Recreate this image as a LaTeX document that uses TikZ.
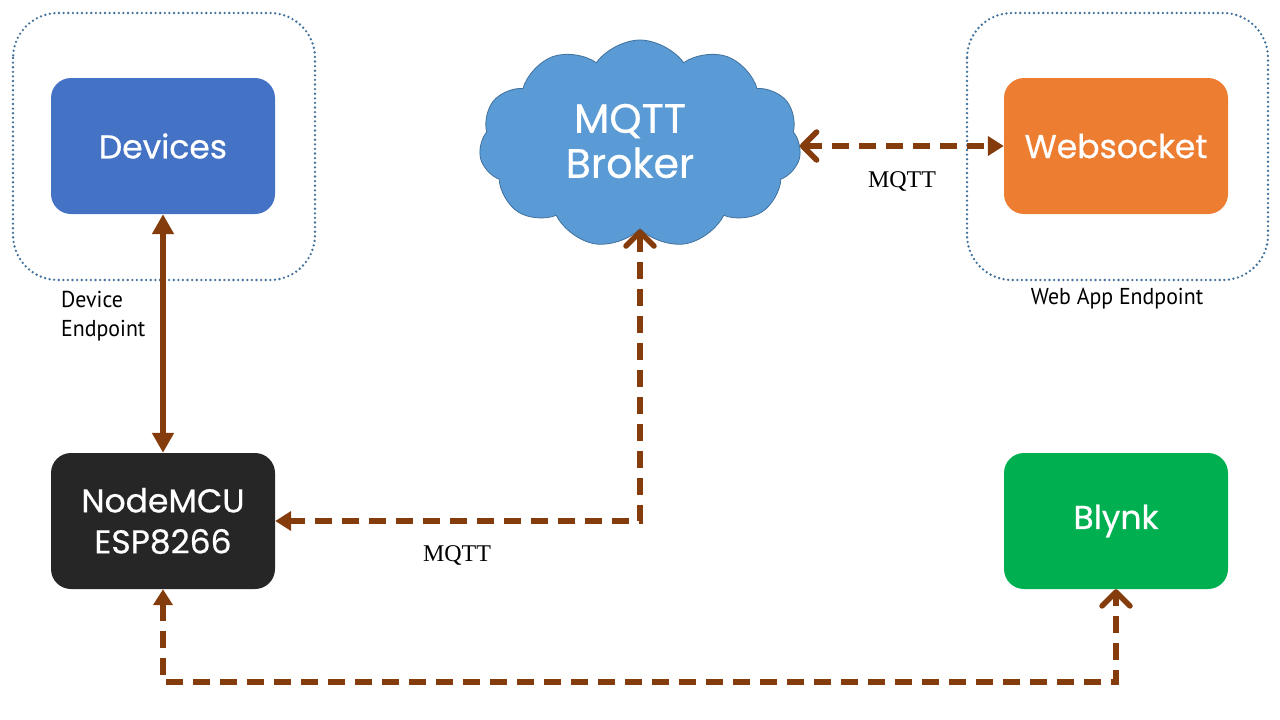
\documentclass[tikz,border=0pt]{standalone}
\usepackage{fontspec}
\setmainfont{Liberation Serif}
\newfontfamily\boxfont[FakeBold=0.6]{Poppins}
\newfontfamily\labfont[FakeStretch=0.95]{PT Sans}
\usetikzlibrary{arrows.meta,shapes.symbols}
\definecolor{zoneblue}{HTML}{41719C}
\definecolor{linkbrown}{HTML}{843C0C}
\definecolor{devblue}{HTML}{4472C4}
\definecolor{wsorange}{HTML}{ED7D31}
\definecolor{mcublack}{HTML}{262626}
\definecolor{blynkgreen}{HTML}{00B050}
\definecolor{cloudblue}{HTML}{5B9BD5}
\begin{document}
\begin{tikzpicture}[x=1pt,y=-1pt,
  box/.style={rounded corners=20pt, minimum width=224pt, minimum height=136pt, inner sep=0pt,
    text=white, font=\boxfont\fontsize{33}{41}\selectfont, align=center},
  zone/.style={draw=zoneblue, line width=2.6pt, dash pattern=on 0pt off 4.6pt, line cap=round, rounded corners=45pt},
  link/.style={draw=linkbrown, line width=5.5pt},
  dashedlink/.style={link, dash pattern=on 17pt off 10pt},
  mytri/.tip={Triangle[length=16pt,width=19pt]},
  bigtri/.tip={Triangle[length=20pt,width=21pt]},
  mybarb/.tip={Straight Barb[round,length=14pt,width=28pt,line width=5.5pt]},
  lab/.style={font=\fontsize{24}{28}\selectfont, inner sep=0pt},
  endlab/.style={font=\labfont\fontsize{23}{29}\selectfont, inner sep=0pt}
]
\path[use as bounding box] (0,0) rectangle (1280,720);
% zones
\draw[zone] (13,13) rectangle (315,280);
\draw[zone] (967,13) rectangle (1268,280);
% nodes
\node[box, fill=devblue] (dev) at (163,146) {Devices};
\node[box, fill=wsorange] (ws) at (1116,146) {Websocket};
\node[box, fill=mcublack] (mcu) at (163,521) {NodeMCU\\ESP8266};
\node[box, fill=blynkgreen] (blynk) at (1116,521) {Blynk};
\node[cloud, cloud puffs=11, cloud puff arc=110, aspect=1.58, draw=zoneblue, fill=cloudblue, line width=0.8pt,
  minimum width=322pt, minimum height=208pt, inner sep=0pt] (broker) at (640,144) {};
\node[text=white, font=\boxfont\fontsize{41}{45}\selectfont, align=center, inner sep=0pt] (brokertext) at (630,141) {MQTT\\Broker};
% labels
\node[lab] (mq1) at (902,181) {MQTT};
\node[lab] (mq2) at (457,555) {MQTT};
\node[endlab, anchor=north west, align=left] (devep) at (61,291) {Device\\Endpoint};
\node[endlab, anchor=north] (webep) at (1117,288) {Web App Endpoint};
% connectors
\draw[link, bigtri-bigtri] (dev.south) -- (mcu.north);
\draw[dashedlink, mybarb-mytri] (broker.south) |- (mcu.east);
\draw[dashedlink, mybarb-mytri] (ws.west -| broker.east) -- (ws.west);
\draw[dashedlink, mytri-mybarb] (mcu.south) -- ++(0,93) -| (blynk.south);
\end{tikzpicture}
\end{document}
